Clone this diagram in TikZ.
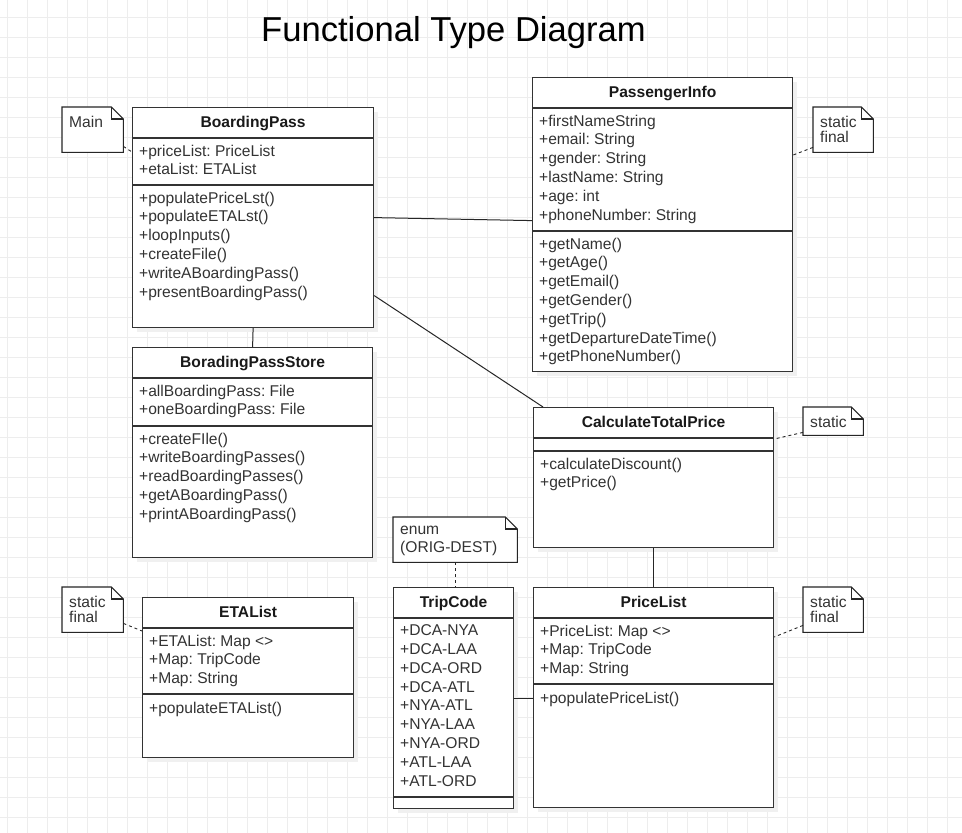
\documentclass[tikz,border=0pt]{standalone}
\usepackage{fontspec}
\setmainfont{Liberation Sans}
\frenchspacing

\newcommand{\umlfont}{\fontsize{15.6}{18.8}\selectfont}
\newcommand{\notetextfont}{\fontsize{15.6}{15.6}\selectfont}

\tikzset{
  gridline/.style={draw=black!7, line width=0.8pt},
  boxshadow/.style={fill=black!6},
  classbox/.style={draw=black!80, fill=white, line width=1.2pt, anchor=north west, inner sep=0pt},
  classline/.style={draw=black!80, line width=1.2pt},
  classname/.style={anchor=base, inner sep=0pt, font=\bfseries\umlfont, text=black!90},
  members/.style={anchor=north west, inner sep=0pt, align=left, font=\umlfont, text=black!80, execute at begin node=\strut},
  notebox/.style={anchor=north west, inner sep=0pt, draw=none},
  notefold/.style={draw=black!85, fill=white, line width=1.1pt},
  notetext/.style={anchor=north west, inner sep=0pt, align=left, font=\notetextfont, text=black!80, execute at begin node=\strut},
  assoc/.style={draw=black!85, line width=1pt},
  notelink/.style={draw=black!85, line width=0.9pt, dash pattern=on 3pt off 3pt},
}

% class box: name, x, y, width, height, attribute height, title, attributes, operations
\newcommand{\umlclass}[9]{%
  \fill[boxshadow] (#2+5,#3+5) rectangle ++(#4,#5);
  \node[classbox, minimum width=#4pt, minimum height=#5pt] (#1) at (#2,#3) {};
  \draw[classline] ([yshift=-31pt]#1.north west) -- ([yshift=-31pt]#1.north east);
  \draw[classline] ([yshift={-(31+#6)*1pt}]#1.north west) -- ([yshift={-(31+#6)*1pt}]#1.north east);
  \node[classname] (#1-name) at ([yshift=-20pt]#1.north) {#7};
  \node[members] (#1-attr) at ([xshift=7pt,yshift=-37.6pt]#1.north west) {#8};
  \node[members] (#1-ops) at ([xshift=7pt,yshift={-(37.6+#6)*1pt}]#1.north west) {#9};
}

% note with folded corner: name, x, y, width, height, text
\newcommand{\umlnote}[6]{%
  \node[notebox, minimum width=#4pt, minimum height=#5pt] (#1) at (#2,#3) {};
  \draw[notefold] (#1.north west) -- ([xshift=-12pt]#1.north east) -- ([yshift=-12pt]#1.north east)
    -- (#1.south east) -- (#1.south west) -- cycle;
  \draw[notefold, fill=none] ([xshift=-12pt]#1.north east) |- ([yshift=-12pt]#1.north east);
  \node[notetext] (#1-text) at ([xshift=7pt,yshift=-8.6pt]#1.north west) {#6};
}

\begin{document}
\begin{tikzpicture}[x=1pt, y=-1pt]

  \useasboundingbox (0,0) rectangle (962,833);
  \fill[white] (0,0) rectangle (962,833);

  % background grid
  \foreach \gx in {7,27,...,947}
    \draw[gridline] (\gx,0) -- (\gx,833);
  \foreach \gy in {17,37,...,817}
    \draw[gridline] (0,\gy) -- (962,\gy);

  \node[anchor=base, inner sep=0pt, font=\fontsize{34.6}{40}\selectfont] (title) at (453.5,41) {Functional Type Diagram};

  % classes
  \umlclass{pass}{132}{107}{241}{220}{47}{BoardingPass}
    {+priceList: PriceList\\+etaList: ETAList}
    {+populatePriceLst()\\+populateETALst()\\+loopInputs()\\+createFile()\\+writeABoardingPass()\\+presentBoardingPass()}

  \umlclass{info}{532}{77}{260}{294}{123}{PassengerInfo}
    {+firstNameString\\+email: String\\+gender: String\\+lastName: String\\+age: int\\+phoneNumber: String}
    {+getName()\\+getAge()\\+getEmail()\\+getGender()\\+getTrip()\\+getDepartureDateTime()\\+getPhoneNumber()}

  \umlclass{store}{132}{347}{240}{210}{48}{BoradingPassStore}
    {+allBoardingPass: File\\+oneBoardingPass: File}
    {+createFIle()\\+writeBoardingPasses()\\+readBoardingPasses()\\+getABoardingPass()\\+printABoardingPass()}

  \umlclass{calc}{533}{407}{240}{140}{13}{CalculateTotalPrice}
    {}
    {+calculateDiscount()\\+getPrice()}

  \umlclass{trip}{393}{587}{120}{221}{179}{TripCode}
    {+DCA-NYA\\+DCA-LAA\\+DCA-ORD\\+DCA-ATL\\+NYA-ATL\\+NYA-LAA\\+NYA-ORD\\+ATL-LAA\\+ATL-ORD}
    {}

  \umlclass{price}{533}{587}{240}{220}{66}{PriceList}
    {+PriceList: Map <>\\+Map: TripCode\\+Map: String}
    {+populatePriceList()}

  \umlclass{eta}{142}{597}{211}{160}{66}{ETAList}
    {+ETAList: Map <>\\+Map: TripCode\\+Map: String}
    {+populateETAList()}

  % notes
  \umlnote{mainnote}{62}{107}{61}{45}{Main}
  \umlnote{infonote}{813}{107}{60}{45}{static\\final}
  \umlnote{calcnote}{803}{407}{60}{28}{static}
  \umlnote{enumnote}{393}{517}{124}{45}{enum\\[2.4pt](ORIG-DEST)}
  \umlnote{etanote}{62}{587}{61}{45}{static\\final}
  \umlnote{pricenote}{803}{587}{60}{45}{static\\final}

  % associations
  \draw[assoc] (pass.east) -- ([yshift=4pt]info.west);
  \draw[assoc] ([yshift=-78pt]pass.east) -- ([xshift=10pt]calc.north west);
  \draw[assoc] (pass.south) -- (store.north);
  \draw[assoc] (calc.south) -- (price.north);
  \draw[assoc] (trip.east) -- (trip.east -| price.west);

  % note links
  \draw[notelink] ([yshift=6pt]mainnote.south east) -- ([yshift=-45pt]pass.north west);
  \draw[notelink] ([yshift=5pt]infonote.south west) -- ([yshift=-78pt]info.north east);
  \draw[notelink] ([yshift=3pt]calcnote.south west) -- ([yshift=-32pt]calc.north east);
  \draw[notelink] ([yshift=7pt]pricenote.south west) -- ([yshift=-50pt]price.north east);
  \draw[notelink] ([yshift=9pt]etanote.south east) -- ([yshift=-34pt]eta.north west);
  \draw[notelink] (enumnote.south) -- (enumnote.south |- trip.north);

\end{tikzpicture}
\end{document}
